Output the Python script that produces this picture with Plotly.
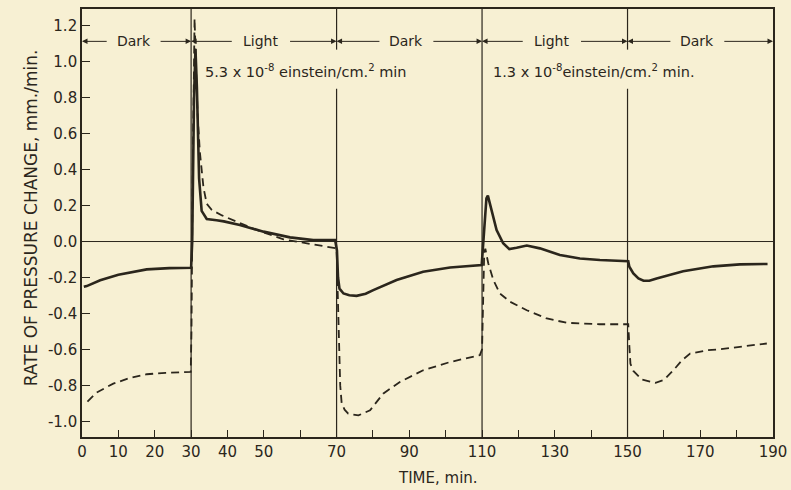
import plotly.graph_objects as go

# ---- data ----
solid_t = [0.5, 1.3, 5, 10, 17.8, 24, 30.0, 30.3, 30.8, 31.2, 31.6, 32.2, 32.9, 34.3, 37, 39,
           43.4, 49.9, 57.2, 63.6, 69.6, 70.1, 70.4, 70.8, 71.9, 73.5, 75.5, 78, 80.1, 86.5,
           93.8, 101.2, 109.9, 110.2, 110.6, 111.2, 111.6, 112.6, 114, 115.8, 117.5, 119.5,
           122.3, 125.9, 131.4, 136.9, 142.4, 150.2, 150.5, 151.6, 153, 154.4, 156, 158,
           165.3, 173.6, 180.9, 188.5]
solid_v = [-0.252, -0.248, -0.215, -0.185, -0.155, -0.148, -0.146, 0.0, 0.8, 1.07, 0.85, 0.35,
           0.17, 0.125, 0.118, 0.112, 0.092, 0.055, 0.023, 0.008, 0.008, -0.05, -0.2, -0.262,
           -0.289, -0.299, -0.302, -0.29, -0.27, -0.214, -0.168, -0.144, -0.131, -0.05, 0.1,
           0.24, 0.255, 0.175, 0.064, -0.01, -0.042, -0.035, -0.022, -0.038, -0.075, -0.094,
           -0.103, -0.11, -0.14, -0.177, -0.205, -0.218, -0.218, -0.205, -0.165, -0.138,
           -0.127, -0.125]

dash_t = [1.5, 4, 8.6, 13, 17.8, 23, 29.9, 30.1, 30.4, 30.7, 30.95, 31.3, 31.8, 32.4, 33.0,
          33.4, 34.3, 35.7, 38.5, 41.6, 48, 55.4, 62.7, 70.0, 70.2, 70.6, 71.0, 71.4, 72.2,
          73.2, 76, 79.2, 82.8, 87.4, 93.8, 101.2, 109.4, 110.0, 110.3, 110.6, 110.9, 111.7,
          113.1, 114.9, 117.7, 122.3, 127.8, 133.3, 142.4, 150.2, 150.5, 150.8, 151.6, 154,
          157.7, 160, 162.6, 165, 167.2, 171.8, 175.4, 180.9, 188.3]
dash_v = [-0.89, -0.84, -0.79, -0.76, -0.738, -0.73, -0.725, -0.5, 0.3, 1.0, 1.24, 1.0, 0.7,
          0.5, 0.38, 0.30, 0.21, 0.175, 0.145, 0.12, 0.064, 0.012, -0.014, -0.038, -0.2,
          -0.55, -0.8, -0.9, -0.935, -0.957, -0.967, -0.939, -0.846, -0.781, -0.716, -0.67,
          -0.632, -0.6, -0.3, -0.06, -0.04, -0.121, -0.214, -0.289, -0.335, -0.382, -0.428,
          -0.452, -0.46, -0.46, -0.58, -0.68, -0.72, -0.768, -0.786, -0.77, -0.716, -0.66,
          -0.623, -0.605, -0.599, -0.586, -0.567]

x_tick_vals = [0, 10, 20, 30, 40, 50, 60, 70, 80, 90, 100, 110, 120, 130, 140, 150, 160, 170, 180, 190]
x_tick_text = ["0", "10", "20", "30", "40", "50", "", "70", "", "90", "", "110", "", "130", "", "150", "", "170", "", "190"]
y_tick_vals = [1.2, 1.0, 0.8, 0.6, 0.4, 0.2, 0.0, -0.2, -0.4, -0.6, -0.8, -1.0]
y_tick_text = ["1.2", "1.0", "0.8", "0.6", "0.4", "0.2", "0.0", "-0.2", "-0.4", "-0.6", "-0.8", "-1.0"]

period_bounds = [0, 30, 70, 110, 150, 190]
period_labels = ["Dark", "Light", "Dark", "Light", "Dark"]
intensity_labels = ["5.3 x 10<sup>-8</sup> einstein/cm.<sup>2</sup> min",
                    "1.3 x 10<sup>-8</sup>einstein/cm.<sup>2</sup> min."]
intensity_x = [33.2, 112.4]

BG = "#f7f0d3"
INK = "#2b261c"
FONT = "DejaVu Sans"

fig = go.Figure()
fig.add_trace(go.Scatter(x=dash_t, y=dash_v, mode="lines",
                         line=dict(color=INK, width=1.8, dash="8px,5px")))
fig.add_trace(go.Scatter(x=solid_t, y=solid_v, mode="lines",
                         line=dict(color=INK, width=2.6)))

YMIN, YMAX = -1.087, 1.293
shapes = []
# zero line
shapes.append(dict(type="line", xref="x", yref="y", x0=0, x1=190, y0=0, y1=0,
                   line=dict(color=INK, width=1), layer="below"))
# period boundary lines (gaps where the intensity text crosses)
for b in period_bounds[1:-1]:
    if b in (70, 150):
        segs = [(YMIN, 0.85), (1.067, YMAX)]
    else:
        segs = [(YMIN, YMAX)]
    for y0, y1 in segs:
        shapes.append(dict(type="line", xref="x", yref="y", x0=b, x1=b, y0=y0, y1=y1,
                           line=dict(color=INK, width=1.2), layer="below"))

annotations = []
ARROW_Y = 1.113
for i, lab in enumerate(period_labels):
    a, b = period_bounds[i], period_bounds[i + 1]
    c = (a + b) / 2 - 0.8
    half = 7.6 if lab == "Light" else 7.0
    annotations.append(dict(x=c, y=ARROW_Y, xref="x", yref="y", text=lab, showarrow=False,
                            font=dict(family=FONT, size=14, color=INK)))
    for end, start in ((a, c - half), (b, c + half)):
        annotations.append(dict(x=end, y=ARROW_Y, ax=start, ay=ARROW_Y, xref="x", yref="y",
                                axref="x", ayref="y", text="", showarrow=True,
                                arrowhead=2, arrowsize=1.1, arrowwidth=1, standoff=0,
                                startstandoff=0, arrowcolor=INK))
for xt, txt in zip(intensity_x, intensity_labels):
    annotations.append(dict(x=xt, y=0.948, xref="x", yref="y", text=txt, showarrow=False,
                            xanchor="left", font=dict(family=FONT, size=14.5, color=INK)))

annotations.append(dict(x=0.515, y=-0.096, xref="paper", yref="paper", text="TIME, min.",
                        showarrow=False, yanchor="middle",
                        font=dict(family=FONT, size=15, color=INK)))
annotations.append(dict(x=-0.092, y=0.512, xref="paper", yref="paper",
                        text="RATE OF PRESSURE CHANGE, mm./min.", textangle=-90,
                        showarrow=False, font=dict(family=FONT, size=17, color=INK)))

fig.update_layout(
    width=791, height=490,
    margin=dict(l=82, r=18, t=9, b=53, autoexpand=False),
    paper_bgcolor=BG, plot_bgcolor=BG,
    showlegend=False,
    shapes=shapes, annotations=annotations,
    font=dict(family=FONT, size=15, color=INK),
)
fig.update_xaxes(range=[0, 190], tickvals=x_tick_vals, ticktext=x_tick_text,
                 ticks="inside", ticklen=7, tickwidth=1.2, tickcolor=INK,
                 showgrid=False, zeroline=False, showline=True, linecolor=INK,
                 linewidth=1.6, mirror=True, automargin=False,
                 tickfont=dict(family=FONT, size=15, color=INK))
fig.update_yaxes(range=[YMIN, YMAX], tickvals=y_tick_vals, ticktext=y_tick_text,
                 ticks="inside", ticklen=8, tickwidth=1.2, tickcolor=INK,
                 showgrid=False, zeroline=False, showline=True, linecolor=INK,
                 linewidth=1.6, mirror=True, automargin=False,
                 tickfont=dict(family=FONT, size=15, color=INK))

fig.write_html("out.html", config={"displayModeBar": False},
               post_script="document.body.style.margin='0';document.body.style.overflow='hidden';")
